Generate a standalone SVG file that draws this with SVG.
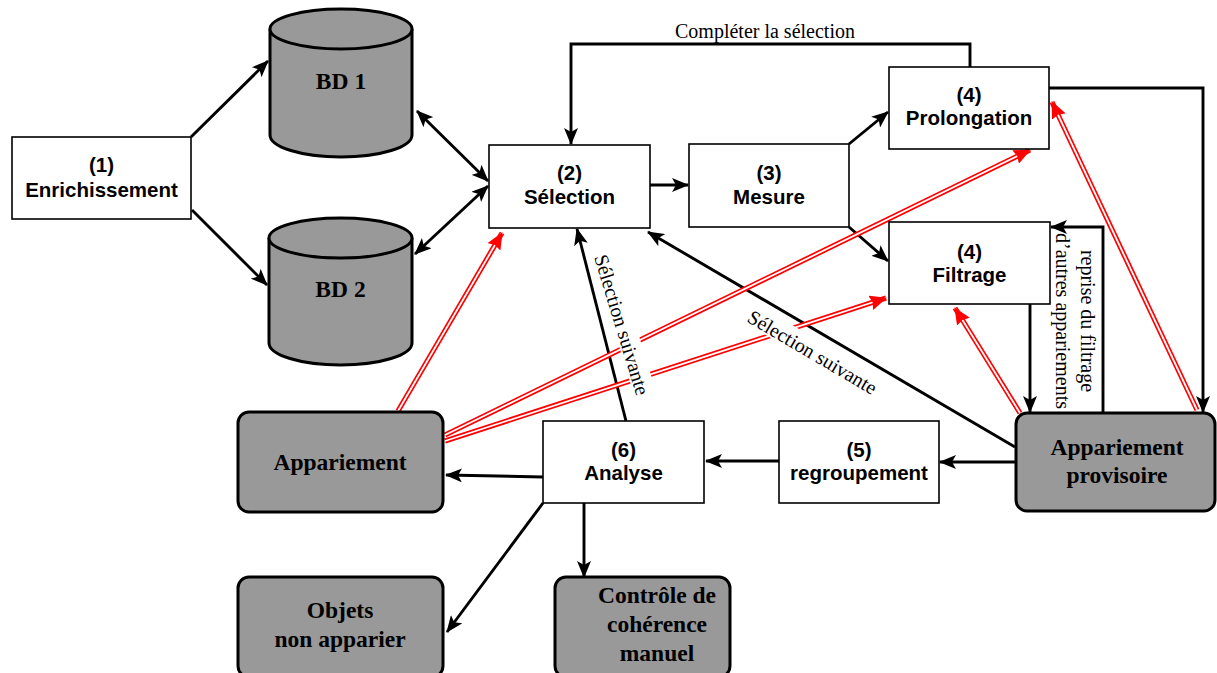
<svg xmlns="http://www.w3.org/2000/svg" width="1217" height="673" viewBox="0 0 1217 673">
<style>
.box{fill:#fff;stroke:#000;stroke-width:1.6}
.gbox{fill:#999;stroke:#000;stroke-width:3}
.b{font-family:"Liberation Sans",Arial,sans-serif;font-weight:bold;font-size:20.5px;text-anchor:middle;fill:#000}
.t{font-family:"Liberation Serif","Times New Roman",serif;font-weight:bold;font-size:23.5px;text-anchor:middle;fill:#000}
.l{font-family:"Liberation Serif","Times New Roman",serif;font-size:20px;text-anchor:middle;fill:#000}
.c{fill:none;stroke:#000;stroke-width:2.9;marker-end:url(#ah)}
.c2{fill:none;stroke:#000;stroke-width:2.9;marker-end:url(#ah);marker-start:url(#ah)}
.ro{fill:none;stroke:#f00;stroke-width:5.2}
.ri{fill:none;stroke:#fff;stroke-width:1.8}
.rh{fill:none;stroke:none;marker-end:url(#rh)}
</style>
<defs>
<marker id="ah" markerUnits="userSpaceOnUse" markerWidth="17" markerHeight="14" viewBox="0 0 17 14" refX="16" refY="7" orient="auto-start-reverse">
<path d="M0,0 L17,7 L0,14 L4,7 z" fill="#000"/>
</marker>
<marker id="rh" markerUnits="userSpaceOnUse" markerWidth="17" markerHeight="15" viewBox="0 0 17 15" refX="16" refY="7.5" orient="auto">
<path d="M0,0 L17,7.5 L0,15 L2,7.5 z" fill="#f00"/>
</marker>
</defs>

<g id="connectors">
<path class="c" d="M191,137 L268,61"/>
<path class="c" d="M192,210 L267,285"/>
<path class="c2" d="M417,111 L488,181"/>
<path class="c2" d="M415,254 L488,186"/>
<path class="c" d="M650,185 L688,185"/>
<path class="c" d="M849,144 L888,112"/>
<path class="c" d="M849,227 L888,261"/>
<path class="c" d="M970,67 L970,44 L571,44 L571,144"/>
<path class="c" d="M1049,88 L1203,88 L1203,412"/>
<path class="c" d="M1030,304 L1030,412"/>
<path class="c" d="M1103,413 L1103,227 L1051,227"/>
<path class="c" d="M1015,462 L940,462"/>
<path class="c" d="M779,461 L706,461"/>
<path class="c" d="M543,477 L446,475"/>
<path class="c" d="M543,503 L447,632"/>
<path class="c" d="M584,503 L584,577"/>
<path class="c" d="M626,421 L577,229"/>
<path class="c" d="M1015,447 L648,232"/>

<path class="ro" d="M398,411 L502,233"/><path class="ri" d="M398,411 L502,233"/><path class="rh" d="M398,411 L502,233"/>
<path class="ro" d="M445,435 L1030,150"/><path class="ri" d="M445,435 L1030,150"/><path class="rh" d="M445,435 L1030,150"/>
<path class="ro" d="M445,441 L886,298"/><path class="ri" d="M445,441 L886,298"/><path class="rh" d="M445,441 L886,298"/>
<path class="ro" d="M1020,413 L955,308"/><path class="ri" d="M1020,413 L955,308"/><path class="rh" d="M1020,413 L955,308"/>
<path class="ro" d="M1197,410 L1052,102"/><path class="ri" d="M1197,410 L1052,102"/><path class="rh" d="M1197,410 L1052,102"/>

<text class="l" x="765" y="38">Compléter la sélection</text>
<g transform="translate(621,325) rotate(73)">
<rect x="-80" y="-14" width="160" height="22" fill="#fff"/>
<text class="l" x="0" y="6">Sélection suivante</text>
</g>
<g transform="translate(812,353) rotate(30.5)">
<rect x="-80" y="-14" width="160" height="22" fill="#fff"/>
<text class="l" x="0" y="6">Sélection suivante</text>
</g>
<text class="l" transform="translate(1081,321) rotate(90)">reprise du filtrage</text>
<text class="l" transform="translate(1056,321) rotate(90)">d’autres appariements</text>
</g>

<g id="n1"><rect class="box" x="12" y="137" width="179" height="82"/>
<text class="b" x="101.5" y="172">(1)</text><text class="b" x="101.5" y="197">Enrichissement</text></g>

<g id="bd1">
<path class="gbox" d="M270,29 L270,135 A71,22 0 0 0 412,135 L412,29"/>
<ellipse class="gbox" cx="341" cy="29" rx="71" ry="20"/>
<text class="t" x="341" y="89">BD 1</text></g>

<g id="bd2">
<path class="gbox" d="M269,238 L269,343 A71.5,22 0 0 0 412,343 L412,238"/>
<ellipse class="gbox" cx="340.5" cy="238" rx="71.5" ry="20"/>
<text class="t" x="340.5" y="297">BD 2</text></g>

<g id="n2"><rect class="box" x="489" y="145" width="161" height="83"/>
<text class="b" x="569.5" y="180">(2)</text><text class="b" x="569.5" y="204">Sélection</text></g>

<g id="n3"><rect class="box" x="689" y="144" width="160" height="83"/>
<text class="b" x="769" y="180">(3)</text><text class="b" x="769" y="204">Mesure</text></g>

<g id="n4p"><rect class="box" x="889" y="67" width="160" height="82"/>
<text class="b" x="969" y="102">(4)</text><text class="b" x="969" y="125">Prolongation</text></g>

<g id="n4f"><rect class="box" x="889" y="222" width="161" height="82"/>
<text class="b" x="969.5" y="259">(4)</text><text class="b" x="969.5" y="282">Filtrage</text></g>

<g id="n5"><rect class="box" x="779" y="421" width="160" height="82"/>
<text class="b" x="859" y="457">(5)</text><text class="b" x="859" y="480">regroupement</text></g>

<g id="n6"><rect class="box" x="543" y="421" width="161" height="82"/>
<text class="b" x="623.5" y="457">(6)</text><text class="b" x="623.5" y="480">Analyse</text></g>

<g id="appprov"><rect class="gbox" x="1016" y="413" width="199" height="98" rx="11"/>
<text class="t" x="1117" y="455">Appariement</text><text class="t" x="1117" y="483">provisoire</text></g>

<g id="app"><rect class="gbox" x="238" y="412" width="205" height="100" rx="11"/>
<text class="t" x="340" y="470">Appariement</text></g>

<g id="objets"><rect class="gbox" x="238" y="577" width="205" height="100" rx="11"/>
<text class="t" x="340" y="618">Objets</text><text class="t" x="340" y="647">non apparier</text></g>

<g id="controle"><rect class="gbox" x="555" y="577" width="175" height="100" rx="11"/>
<text class="t" x="657" y="603">Contrôle de</text><text class="t" x="657" y="632">cohérence</text><text class="t" x="657" y="661">manuel</text></g>
</svg>
